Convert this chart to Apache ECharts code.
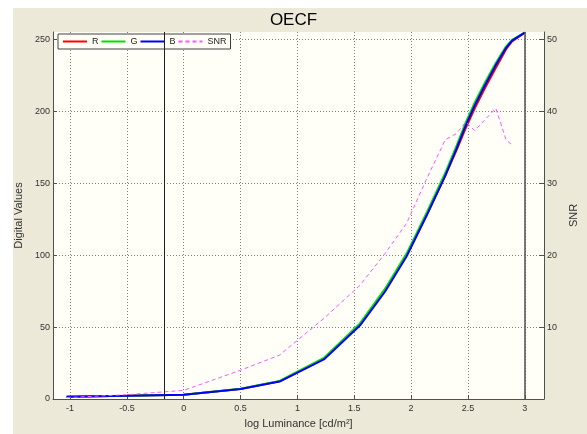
<!DOCTYPE html>
<html><head><meta charset="utf-8">
<script src="https://cdn.jsdelivr.net/npm/echarts@6/dist/echarts.min.js"></script>
<style>
html,body{margin:0;padding:0;background:#fff;}
#wrap{position:relative;width:587px;height:434px;background:#fff;overflow:hidden;}
#fig{position:absolute;left:13px;top:8px;right:0;bottom:0;background:#ECE9D8;}
#chart{position:absolute;left:0;top:0;width:587px;height:434px;}
</style></head><body>
<div id="wrap"><div id="fig"></div><div id="chart"></div></div>
<script>
// log luminance sample points for R, G, B
const logLum = [-1.03, -0.5, 0.0, 0.5, 0.843, 1.233, 1.55, 1.77, 1.96, 2.14, 2.30, 2.40, 2.48, 2.56, 2.65, 2.745, 2.836, 2.888, 3.0];
const rVals = [1.6, 2.2, 2.9, 7.0, 12.3, 28.0, 52.0, 75.5, 100.0, 128.5, 155.0, 173.0, 188.0, 202.0, 216.0, 230.0, 243.0, 248.5, 254.6];
const gVals = [1.6, 2.2, 3.0, 7.2, 12.5, 28.5, 52.5, 76.5, 101.0, 130.0, 157.0, 176.0, 192.0, 206.0, 220.0, 233.5, 245.0, 249.5, 254.6];
const bVals = [1.6, 2.2, 2.9, 7.0, 12.1, 27.5, 51.0, 74.5, 99.0, 128.0, 155.0, 174.0, 190.0, 204.0, 218.0, 232.0, 244.0, 249.0, 254.6];
// SNR samples
const snrLum = [-1.03, -0.5, 0.0, 0.5, 0.843, 1.233, 1.55, 1.77, 1.96, 2.14, 2.30, 2.40, 2.48, 2.56, 2.745, 2.836, 2.888];
const snrVals = [0.2, 0.6, 1.2, 4.0, 6.1, 11.2, 15.8, 20.2, 24.4, 30.7, 36.0, 36.9, 38.5, 37.3, 40.4, 36.0, 35.3];
// tick labels
const xTicks = [-1, -0.5, 0, 0.5, 1, 1.5, 2, 2.5, 3];
const yTicks = [0, 50, 100, 150, 200, 250];
const snrTicks = [10, 20, 30, 40, 50];
// vertical reference lines
const refLines = [-0.17, 3.0];

const font = 'Liberation Sans, Arial, sans-serif';
const zip = (xs, ys) => xs.map((x, i) => [x, ys[i]]);
const chart = echarts.init(document.getElementById('chart'), null, {renderer: 'canvas'});
const split = {show: true, lineStyle: {color: '#808080', type: [1, 2], width: 1}};
chart.setOption({
  animation: false,
  backgroundColor: 'transparent',
  title: {text: 'OECF', left: 'center', top: 12, padding: 0,
    textStyle: {fontFamily: font, fontSize: 17, fontWeight: 'normal', color: '#000'}},
  legend: {
    left: 58, top: 34, padding: [3, 4, 3, 4], itemGap: 2, itemWidth: 24, itemHeight: 10,
    backgroundColor: '#FFFFF8', borderColor: '#404040', borderWidth: 1, borderRadius: 0,
    itemStyle: {opacity: 0},
    textStyle: {fontFamily: font, fontSize: 9, color: '#222'},
    data: ['R', 'G', 'B', 'SNR']
  },
  grid: {left: 53, right: 36, top: 32, bottom: 29, show: true, backgroundColor: '#FFFFF8', borderWidth: 0},
  xAxis: {
    type: 'value', min: -1.15, max: 3.17,
    name: 'log Luminance [cd/m²]', nameLocation: 'middle', nameGap: 19,
    nameTextStyle: {fontFamily: font, fontSize: 11, color: '#333'},
    axisLine: {show: true, onZero: false, lineStyle: {color: '#505050'}},
    axisTick: {show: true, inside: true, length: 4, customValues: xTicks, lineStyle: {color: '#505050'}},
    axisLabel: {customValues: xTicks, fontFamily: font, fontSize: 9, color: '#333', margin: 5},
    splitLine: split
  },
  yAxis: [{
    type: 'value', min: 0, max: 255, position: 'left',
    name: 'Digital Values', nameLocation: 'middle', nameGap: 11, nameRotate: 90,
    nameTextStyle: {fontFamily: font, fontSize: 11, color: '#333'},
    axisLine: {show: true, onZero: false, lineStyle: {color: '#505050'}},
    axisTick: {show: true, inside: true, length: 4, customValues: yTicks, lineStyle: {color: '#505050'}},
    axisLabel: {customValues: yTicks, fontFamily: font, fontSize: 9, color: '#333', margin: 3},
    splitLine: split
  }, {
    type: 'value', min: 0, max: 51, position: 'right',
    name: 'SNR', nameLocation: 'middle', nameGap: 15, nameRotate: 90,
    nameTextStyle: {fontFamily: font, fontSize: 11, color: '#333'},
    axisLine: {show: true, onZero: false, lineStyle: {color: '#505050'}},
    axisTick: {show: true, inside: true, length: 5, customValues: snrTicks, lineStyle: {color: '#505050'}},
    axisLabel: {customValues: snrTicks, fontFamily: font, fontSize: 9, color: '#333', margin: 3},
    splitLine: {show: false}
  }],
  series: [
    {name: 'refLines', type: 'line', data: [], silent: true,
      markLine: {silent: true, symbol: 'none', label: {show: false},
        data: refLines.map((v, i) => ({xAxis: v, lineStyle: {color: i === 0 ? '#202020' : '#505050', width: i === 0 ? 1 : 1.5, type: 'solid'}}))}},
    {name: 'R', type: 'line', data: zip(logLum, rVals), showSymbol: false, symbol: 'none', lineStyle: {color: '#FF0000', width: 2}, itemStyle: {color: '#FF0000'}},
    {name: 'G', type: 'line', data: zip(logLum, gVals), showSymbol: false, symbol: 'none', lineStyle: {color: '#00E000', width: 2}, itemStyle: {color: '#00E000'}},
    {name: 'B', type: 'line', data: zip(logLum, bVals), showSymbol: false, symbol: 'none', lineStyle: {color: '#0000FF', width: 2}, itemStyle: {color: '#0000FF'}},
    {name: 'SNR', type: 'line', yAxisIndex: 1, data: zip(snrLum, snrVals), showSymbol: false, symbol: 'none', lineStyle: {color: '#FF55FF', width: 1, type: [4, 3]}, itemStyle: {color: '#FF55FF'}}
  ]
});
</script></body></html>
